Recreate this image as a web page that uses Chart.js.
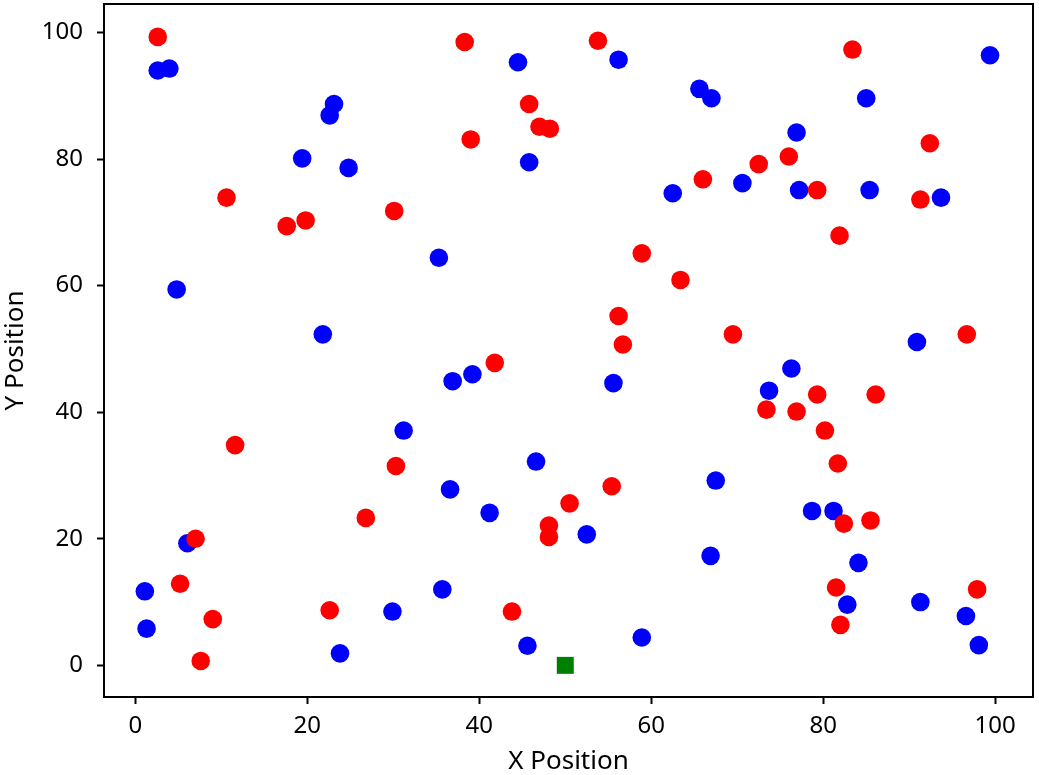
<!DOCTYPE html>
<html>
<head>
<meta charset="utf-8">
<script src="https://cdn.jsdelivr.net/npm/chart.js@4"></script>
<style>
  html, body { margin: 0; padding: 0; background: #ffffff; }
  #wrap { width: 1039px; height: 775px; position: relative; }
</style>
</head>
<body>
<div id="wrap"><canvas id="c"></canvas></div>
<script>
// ---- data ----
const redX = [2.6, 10.6, 17.6, 19.8, 38.3, 53.8, 45.8, 47.0, 48.2, 39.0, 30.1, 58.9,
  83.4, 92.4, 66.0, 72.5, 76.0, 79.3, 91.3, 81.9, 63.4, 56.2, 56.7, 41.8, 30.3, 55.4,
  50.5, 69.5, 96.7, 79.3, 86.1, 73.4, 76.9, 80.2, 81.7, 11.6, 7.0, 5.2, 9.0, 7.6,
  22.6, 26.8, 48.1, 48.1, 43.8, 82.4, 85.5, 81.5, 82.0, 97.9];
const redY = [99.3, 73.9, 69.4, 70.3, 98.5, 98.7, 88.7, 85.1, 84.8, 83.1, 71.8, 65.1,
  97.3, 82.5, 76.8, 79.2, 80.4, 75.1, 73.6, 67.9, 60.9, 55.2, 50.7, 47.8, 31.5, 28.3,
  25.6, 52.3, 52.3, 42.8, 42.8, 40.4, 40.1, 37.1, 31.9, 34.8, 20.0, 12.9, 7.3, 0.7,
  8.7, 23.3, 22.1, 20.3, 8.5, 22.4, 22.9, 12.3, 6.4, 12.0];
const blueX = [2.6, 3.95, 23.1, 22.6, 19.4, 24.8, 44.5, 56.2, 45.8, 62.5, 35.3, 99.4,
  65.6, 67.0, 85.0, 76.9, 70.6, 77.2, 85.4, 93.7, 4.8, 21.8, 39.2, 36.9, 55.6, 31.2,
  46.6, 36.6, 90.9, 76.3, 73.7, 67.5, 78.7, 81.2, 66.9, 84.1, 82.8, 91.3, 96.6, 98.1,
  41.2, 52.5, 35.7, 29.9, 45.6, 58.9, 6.05, 1.1, 1.3, 23.8];
const blueY = [94.0, 94.3, 88.7, 86.9, 80.1, 78.6, 95.3, 95.7, 79.5, 74.6, 64.4, 96.4,
  91.1, 89.6, 89.6, 84.2, 76.2, 75.1, 75.1, 73.9, 59.4, 52.3, 46.0, 44.9, 44.6, 37.1,
  32.2, 27.8, 51.1, 46.9, 43.4, 29.2, 24.4, 24.4, 17.3, 16.2, 9.6, 10.0, 7.8, 3.2,
  24.1, 20.7, 12.0, 8.5, 3.1, 4.4, 19.3, 11.7, 5.8, 1.9];
const targetX = [50];
const targetY = [0];
const tickValues = [0, 20, 40, 60, 80, 100];
const xLabel = 'X Position';
const yLabel = 'Y Position';

const toPoints = (xs, ys) => xs.map((x, i) => ({ x: x, y: ys[i] }));

const FONT = "'Noto Sans', 'Open Sans', sans-serif";

const framePlugin = {
  id: 'frame',
  afterDraw(chart) {
    const { ctx, chartArea: a } = chart;
    ctx.save();
    ctx.strokeStyle = '#000000';
    ctx.lineWidth = 2;
    ctx.strokeRect(a.left, a.top, a.right - a.left, a.bottom - a.top);
    ctx.restore();
  }
};

const setTicks = (scale) => {
  scale.ticks = tickValues.map(v => ({ value: v }));
};
const noPad = (s) => {
  s.paddingTop = 0; s.paddingBottom = 0; s.paddingLeft = 0; s.paddingRight = 0;
};

new Chart(document.getElementById('c'), {
  type: 'scatter',
  data: {
    datasets: [
      {
        label: 'target',
        data: toPoints(targetX, targetY),
        pointStyle: 'rect',
        pointRadius: 12,
        pointHoverRadius: 12,
        backgroundColor: '#008000',
        borderColor: '#008000',
        borderWidth: 0
      },
      {
        label: 'red',
        data: toPoints(redX, redY),
        pointRadius: 9.3,
        pointHoverRadius: 9.3,
        backgroundColor: '#ff0000',
        borderColor: '#ff0000',
        borderWidth: 0
      },
      {
        label: 'blue',
        data: toPoints(blueX, blueY),
        pointRadius: 9.3,
        pointHoverRadius: 9.3,
        backgroundColor: '#0000ff',
        borderColor: '#0000ff',
        borderWidth: 0
      }
    ]
  },
  options: {
    responsive: true,
    maintainAspectRatio: false,
    animation: false,
    events: [],
    layout: { autoPadding: false, padding: { left: 0, top: 4, right: 6, bottom: 0 } },
    plugins: {
      legend: { display: false },
      title: { display: false },
      tooltip: { enabled: false }
    },
    scales: {
      x: {
        type: 'linear',
        min: -3.65,
        max: 104.4,
        afterBuildTicks: setTicks,
        afterFit: (s) => { s.height = 78; noPad(s); },
        grid: {
          drawOnChartArea: false,
          drawTicks: true,
          tickLength: 7,
          tickWidth: 2,
          tickColor: '#000000'
        },
        border: { display: true, color: '#000000', width: 2 },
        ticks: {
          color: '#000000',
          padding: 8,
          maxRotation: 0,
          font: { family: FONT, size: 24 }
        },
        title: {
          display: true,
          text: xLabel,
          color: '#000000',
          padding: { top: 0, bottom: -2 },
          font: { family: FONT, size: 26 }
        }
      },
      y: {
        type: 'linear',
        min: -5.0,
        max: 104.5,
        afterBuildTicks: setTicks,
        afterFit: (s) => { s.width = 104; noPad(s); },
        grid: {
          drawOnChartArea: false,
          drawTicks: true,
          tickLength: 7,
          tickWidth: 2,
          tickColor: '#000000'
        },
        border: { display: true, color: '#000000', width: 2 },
        ticks: {
          color: '#000000',
          padding: 14,
          font: { family: FONT, size: 24 }
        },
        title: {
          display: true,
          text: yLabel,
          color: '#000000',
          padding: { top: 0, bottom: 0 },
          font: { family: FONT, size: 26 }
        }
      }
    }
  },
  plugins: [framePlugin]
});
</script>
</body>
</html>
